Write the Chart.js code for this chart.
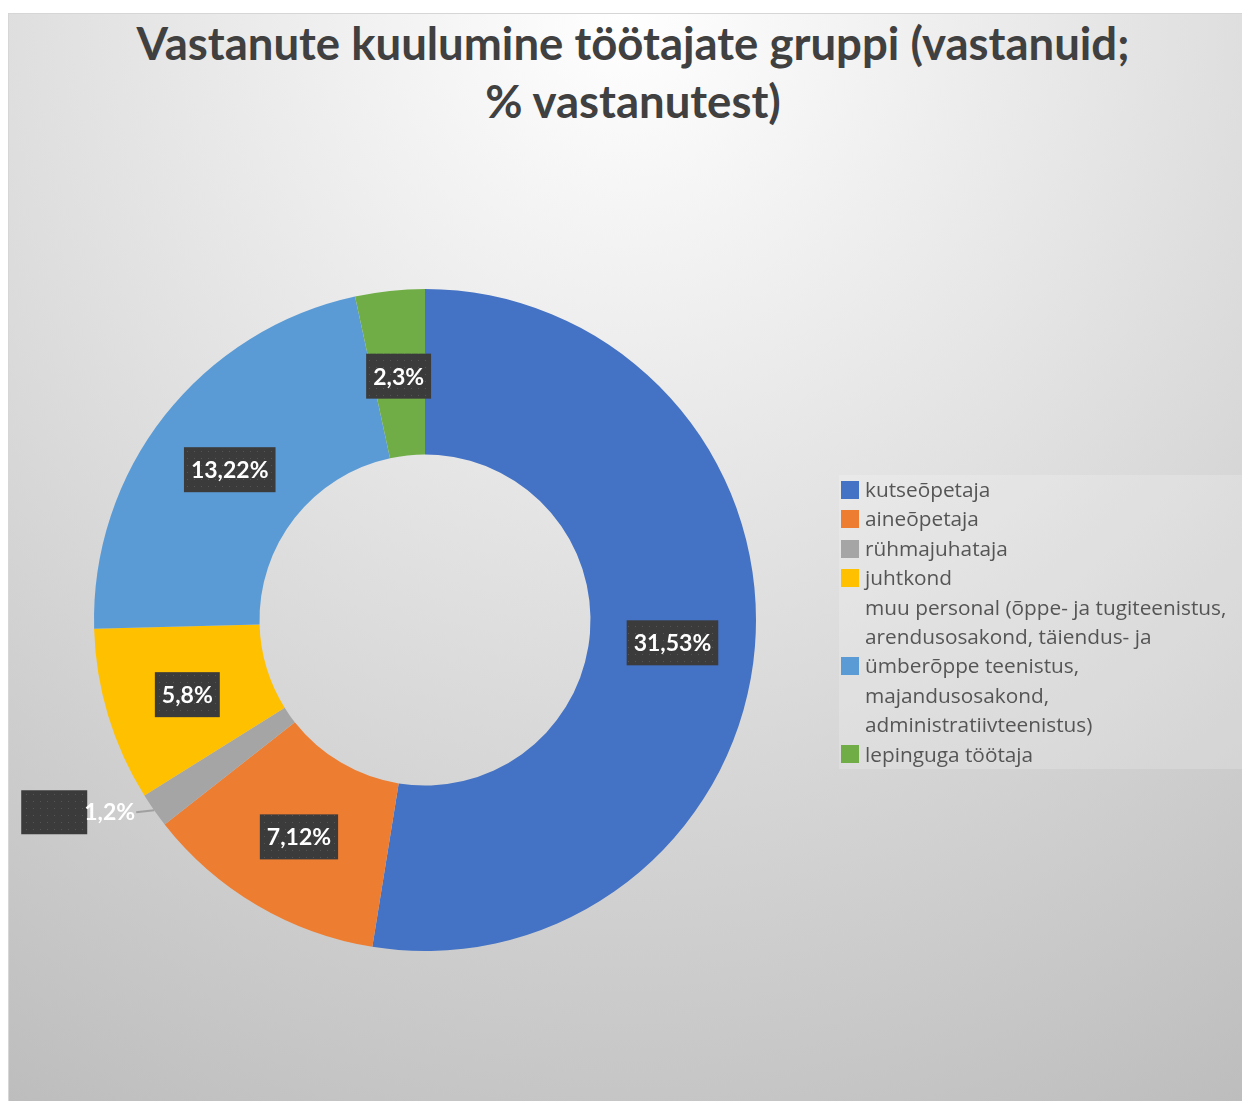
<!DOCTYPE html>
<html><head><meta charset="utf-8">
<script src="https://cdn.jsdelivr.net/npm/chart.js@4/dist/chart.umd.min.js"></script>
<style>
html,body{margin:0;padding:0;background:#fff;width:1242px;height:1101px;overflow:hidden}
#frame{position:absolute;left:8px;top:13px;width:1234px;height:1088px;background:radial-gradient(circle farthest-corner at 50% 0%, #ffffff 0%, #bdbdbd 100%);border-top:1px solid #d6d6d6;border-left:1px solid #d6d6d6;box-sizing:border-box}
#title{position:absolute;left:14px;top:0px;width:1220px;text-align:center;font-family:Lato,sans-serif;font-weight:bold;font-size:45.5px;line-height:58px;color:#404040}
#chart{position:absolute;left:0;top:0}
#legend{position:absolute;left:830px;top:461px;width:404px;height:294px;background:rgba(255,255,255,0.18)}
.row{display:flex;align-items:center;font-family:"Open Sans",sans-serif;font-size:20.8px;line-height:29.4px;color:#555555;white-space:nowrap}
.sw{width:18px;height:18px;margin-left:2px;margin-right:6px;flex:none}
</style></head>
<body>
<div id="frame">
  <div id="title">Vastanute kuulumine töötajate gruppi (vastanuid;<br>% vastanutest)</div>
  <canvas id="chart" width="1232" height="1087"></canvas>
  <div id="legend"></div>
</div>
<script>
const categories = [
  'kutseõpetaja',
  'aineõpetaja',
  'rühmajuhataja',
  'juhtkond',
  ['muu personal (õppe- ja tugiteenistus,', 'arendusosakond, täiendus- ja', 'ümberõppe teenistus,', 'majandusosakond,', 'administratiivteenistus)'],
  'lepinguga töötaja'
];
const counts = [31, 7, 1, 5, 13, 2];
const colors = ['#4472C4', '#ED7D31', '#A5A5A5', '#FFC000', '#5B9BD5', '#70AD47'];

function makePattern(ctx) {
  const c = document.createElement('canvas');
  c.width = 7; c.height = 7;
  const p = c.getContext('2d');
  p.fillStyle = '#3b3b3b'; p.fillRect(0, 0, 7, 7);
  p.fillStyle = '#555555'; p.fillRect(3, 3, 1, 1);
  return ctx.createPattern(c, 'repeat');
}

const boxLabels = {
  id: 'boxLabels',
  afterDatasetsDraw(chart) {
    const ctx = chart.ctx;
    const meta = chart.getDatasetMeta(0);
    const data = chart.data.datasets[0].data;
    const total = data.reduce((a, b) => a + b, 0);
    const pat = makePattern(ctx);
    ctx.save();
    ctx.font = 'bold 23px Lato, sans-serif';
    ctx.textBaseline = 'middle';
    meta.data.forEach((arc, i) => {
      const p = arc.getProps(['x', 'y', 'startAngle', 'endAngle', 'innerRadius', 'outerRadius'], true);
      const mid = (p.startAngle + p.endAngle) / 2;
      const frac = data[i] / total;
      const text = data[i] + ',' + Math.round(frac * 100) + '%';
      const tw = ctx.measureText(text).width;
      if (frac < 0.025) {
        const ox = p.x + Math.cos(mid) * p.outerRadius;
        const oy = p.y + Math.sin(mid) * p.outerRadius;
        const tx = ox - 19 - tw;
        const ty = oy + 2;
        ctx.fillStyle = pat;
        ctx.fillRect(tx + 3 - 66, ty - 22, 66, 44);
        ctx.strokeStyle = '#a0a0a0'; ctx.lineWidth = 2;
        ctx.beginPath(); ctx.moveTo(tx + tw + 1, ty); ctx.lineTo(ox, oy); ctx.stroke();
        ctx.fillStyle = '#ffffff';
        ctx.textAlign = 'left';
        ctx.fillText(text, tx, ty);
      } else {
        const r = (p.innerRadius + p.outerRadius) / 2;
        const cx = p.x + Math.cos(mid) * r;
        const cy = p.y + Math.sin(mid) * r + 3;
        const bw = tw + 14, bh = 45;
        ctx.fillStyle = pat;
        ctx.fillRect(cx - bw / 2, cy - bh / 2, bw, bh);
        ctx.fillStyle = '#ffffff';
        ctx.textAlign = 'center';
        ctx.fillText(text, cx, cy + 1);
      }
    });
    ctx.restore();
  }
};

new Chart(document.getElementById('chart'), {
  type: 'doughnut',
  data: {
    labels: categories,
    datasets: [{ data: counts, backgroundColor: colors, borderWidth: 0 }]
  },
  options: {
    responsive: false,
    animation: false,
    cutout: '50%',
    layout: { padding: { left: 85, right: 485, top: 275, bottom: 150 } },
    plugins: { legend: { display: false }, tooltip: { enabled: false }, title: { display: false } }
  },
  plugins: [boxLabels]
});

const legend = document.getElementById('legend');
categories.forEach((lab, i) => {
  const row = document.createElement('div');
  row.className = 'row';
  const sw = document.createElement('div');
  sw.className = 'sw';
  sw.style.background = colors[i];
  const tx = document.createElement('div');
  tx.innerHTML = (Array.isArray(lab) ? lab : [lab]).map(s => s.replace(/&/g, '&amp;').replace(/</g, '&lt;')).join('<br>');
  row.appendChild(sw); row.appendChild(tx);
  legend.appendChild(row);
});
</script>
</body></html>
